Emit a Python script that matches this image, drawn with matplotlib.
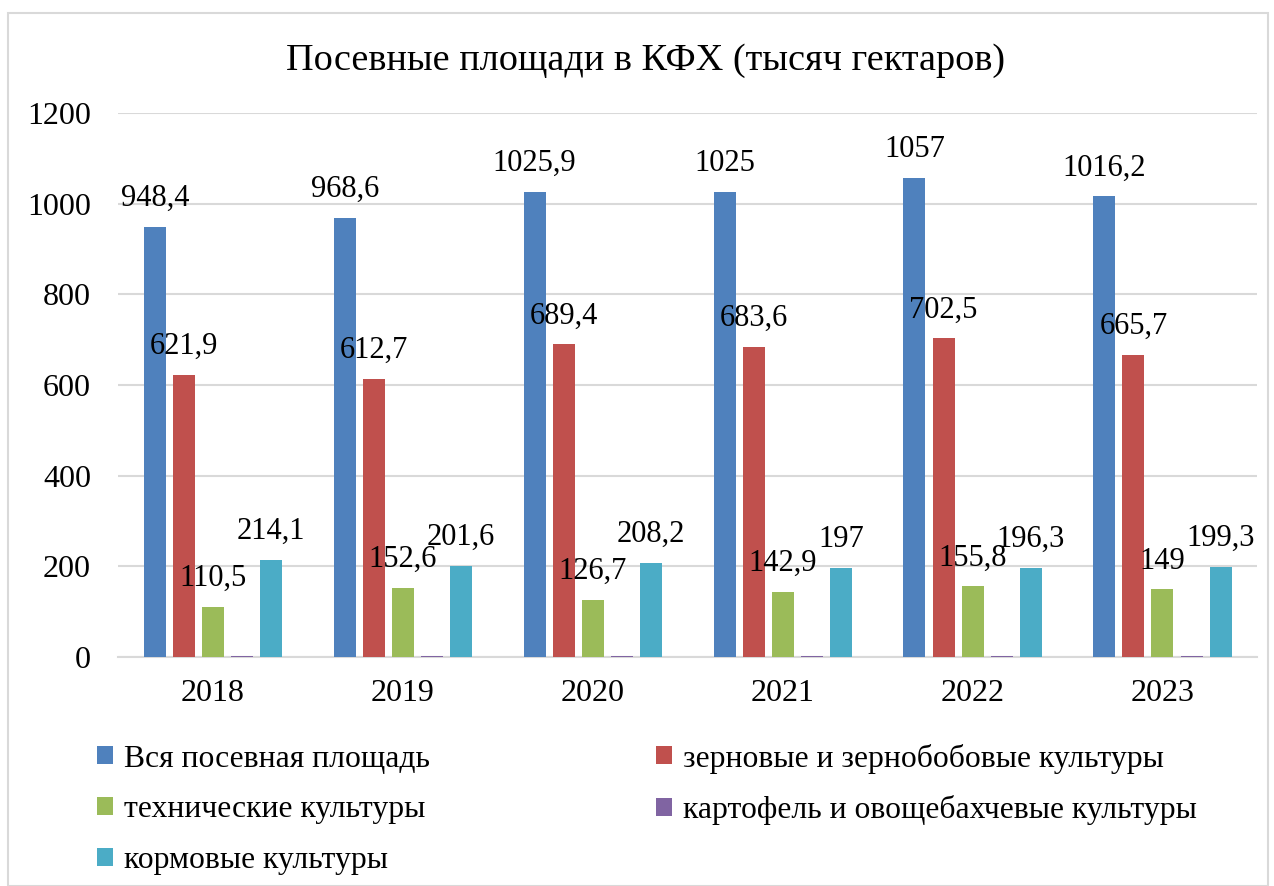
import numpy as np
import matplotlib.pyplot as plt
from matplotlib.patches import Rectangle

plt.rcParams["font.family"] = ["Liberation Serif", "DejaVu Serif"]

years = ["2018", "2019", "2020", "2021", "2022", "2023"]
vsya = [948.4, 968.6, 1025.9, 1025, 1057, 1016.2]
zernovye = [621.9, 612.7, 689.4, 683.6, 702.5, 665.7]
tehnich = [110.5, 152.6, 126.7, 142.9, 155.8, 149]
kartofel = [2, 2, 2, 2, 2, 2]
kormovye = [214.1, 201.6, 208.2, 197, 196.3, 199.3]

series = [
    ("Вся посевная площадь", vsya, "#4F81BD", True),
    ("зерновые и зернобобовые культуры", zernovye, "#C0504D", True),
    ("технические культуры", tehnich, "#9BBB59", True),
    ("картофель и овощебахчевые культуры", kartofel, "#8064A2", False),
    ("кормовые культуры", kormovye, "#4BACC6", True),
]

fig = plt.figure(figsize=(12.74, 8.86), dpi=100)
ax = fig.add_axes([0.0926, 0.2585, 0.8944, 0.614])

x = np.arange(len(years))
pitch = 0.153
width = 0.116
handles = {}
for i, (name, vals, color, show) in enumerate(series):
    pos = x + (i - 2) * pitch
    bars = ax.bar(pos, vals, width, color=color, label=name, zorder=3)
    handles[name] = bars
    if show:
        for px, v in zip(pos, vals):
            txt = f"{v:g}".replace(".", ",")
            ax.annotate(txt, (px, v), xytext=(0, 10), textcoords="offset points",
                        ha="center", va="bottom", fontsize=22, zorder=5)

ax.set_xlim(-0.5, len(years) - 0.5)
ax.set_ylim(0, 1200)
ax.set_yticks(range(0, 1201, 200))
ax.set_xticks(x)
ax.set_xticklabels(years)
ax.tick_params(axis="both", length=0, labelsize=23)
ax.tick_params(axis="y", pad=19.5)
ax.tick_params(axis="x", pad=16)
ax.grid(axis="y", color="#D9D9D9", linewidth=1.5, zorder=0)
for s in ["top", "right", "left"]:
    ax.spines[s].set_visible(False)
ax.spines["bottom"].set_color("#D9D9D9")
ax.spines["bottom"].set_linewidth(1.5)

fig.text(0.507, 0.932, "Посевные площади в КФХ (тысяч гектаров)", ha="center",
         va="center", fontsize=27.5)

order = ["Вся посевная площадь", "технические культуры", "кормовые культуры",
         "зерновые и зернобобовые культуры", "картофель и овощебахчевые культуры"]
leg = fig.legend([handles[n] for n in order], order, loc="upper left",
                 bbox_to_anchor=(0.054, 0.193), ncol=2, frameon=False,
                 fontsize=22.8, handlelength=0.5, handleheight=0.5,
                 handletextpad=0.35, columnspacing=7.12, labelspacing=0.69)

fig.patches.append(Rectangle((8 / 1274, 0), 1260 / 1274, 1 - 13 / 886,
                             transform=fig.transFigure, fill=False,
                             edgecolor="#D9D9D9", linewidth=1.5))

fig.savefig("out.png", dpi=100)
